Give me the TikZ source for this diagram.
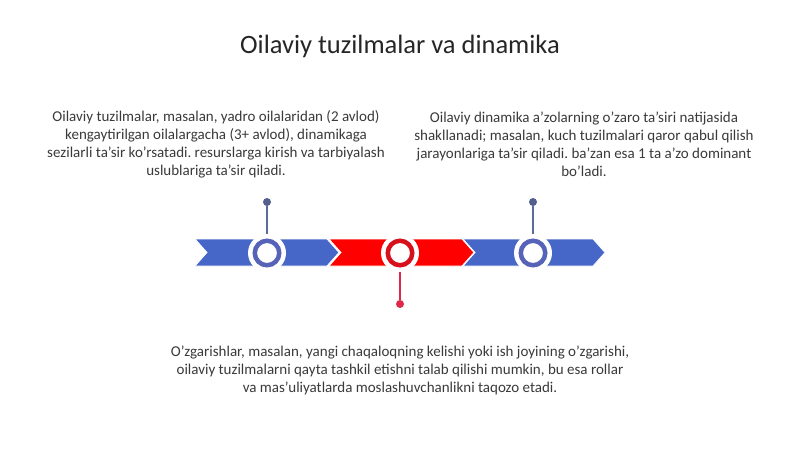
\documentclass[tikz,border=0pt]{standalone}
\usepackage{fontspec}
\setmainfont{Carlito}
\frenchspacing
\definecolor{bandblue}{HTML}{4767C8}
\definecolor{ringblue}{HTML}{5763B8}
\definecolor{stemblue}{HTML}{5B6B9B}
\definecolor{bandred}{HTML}{FF0000}
\definecolor{ringred}{HTML}{D8101E}
\definecolor{stemred}{HTML}{E0284A}
\definecolor{txt}{HTML}{3A3A3A}
\begin{document}
\begin{tikzpicture}[x=1pt,y=-1pt,
 ring/.style={circle, draw=#1, line width=4.5pt, fill=white, minimum size=24.5pt, inner sep=0pt},
 halo/.style={circle, fill=white, minimum size=38pt, inner sep=0pt},
 dot/.style={circle, fill=#1, minimum size=8pt, inner sep=0pt},
 stem/.style={draw=#1, line width=1.5pt},
 body/.style={align=center, text=txt, font=\fontsize{15}{18}\selectfont\frenchspacing, inner sep=0pt},
 seg/.style={fill=#1, draw=white, line width=0.8pt}]
\useasboundingbox[fill=white] (0,0) rectangle (800,449);
\node[text=black!85, font=\fontsize{26.5}{30}\selectfont] (title) at (400,46) {Oilaviy tuzilmalar va dinamika};
\node[body] (t1) at (216,144.5) {Oilaviy tuzilmalar, masalan, yadro oilalaridan (2 avlod)\\kengaytirilgan oilalargacha (3+ avlod), dinamikaga\\sezilarli ta'sir ko'rsatadi. resurslarga kirish va tarbiyalash\\uslublariga ta'sir qiladi.};
\node[body] (t2) at (584,144.5) {Oilaviy dinamika a'zolarning o'zaro ta'siri natijasida\\shakllanadi; masalan, kuch tuzilmalari qaror qabul qilish\\jarayonlariga ta'sir qiladi. ba'zan esa 1 ta a'zo dominant\\bo'ladi.};
\node[body] (t3) at (400,370.5) {O'zgarishlar, masalan, yangi chaqaloqning kelishi yoki ish joyining o'zgarishi,\\oilaviy tuzilmalarni qayta tashkil etishni talab qilishi mumkin, bu esa rollar\\va mas'uliyatlarda moslashuvchanlikni taqozo etadi.};
\path[seg=bandblue] (195,239) -- (327,239) -- (339,252.5) -- (327,266) -- (195,266) -- (207,252.5) -- cycle;
\path[seg=bandred] (329,239) -- (462,239) -- (474,252.5) -- (462,266) -- (329,266) -- (341,252.5) -- cycle;
\path[seg=bandblue] (463,239) -- (593,239) -- (605,252.5) -- (593,266) -- (463,266) -- (475,252.5) -- cycle;
\node[dot=stemblue!90!black] (d1) at (267,202) {};
\node[dot=stemred] (d2) at (400,304) {};
\node[dot=stemblue!90!black] (d3) at (533,202) {};
\node[halo] (h1) at (267,253) {};
\node[halo] (h2) at (400,253) {};
\node[halo] (h3) at (533,253) {};
\draw[stem=stemblue] (d1) -- (h1.north);
\draw[stem=stemred] (d2) -- (h2.south);
\draw[stem=stemblue] (d3) -- (h3.north);
\node[ring=ringblue] (c1) at (267,253) {};
\node[ring=ringred] (c2) at (400,253) {};
\node[ring=ringblue] (c3) at (533,253) {};
\end{tikzpicture}
\end{document}
